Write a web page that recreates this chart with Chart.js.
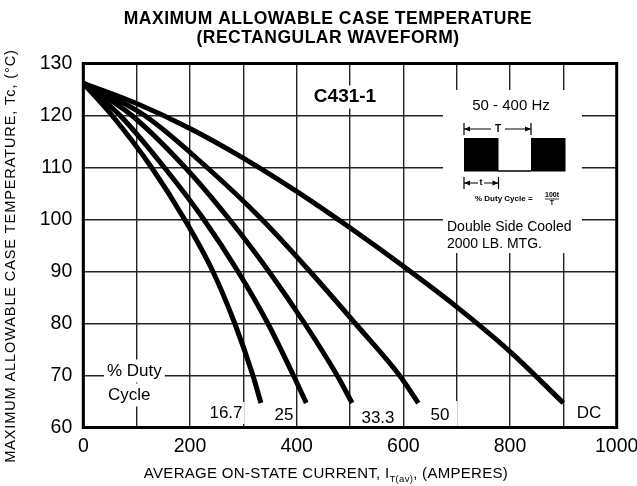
<!DOCTYPE html>
<html>
<head>
<meta charset="utf-8">
<script src="https://cdn.jsdelivr.net/npm/chart.js@4.4.1/dist/chart.umd.min.js"></script>
<style>
  body { margin: 0; background: #fff; }
  canvas { display: block; }
</style>
</head>
<body>
<canvas id="caseTempChart" width="637" height="486"></canvas>
<script>
// curves: current (A) vs max case temp (C)
var duty167Current = [0, 54, 128, 190, 243, 284, 318, 333];
var duty167Temp    = [126.2, 120, 110, 100, 90, 80, 70, 64.7];

var duty25Current = [0, 69, 152, 226, 290, 346, 394, 418];
var duty25Temp    = [126.2, 120, 110, 100, 90, 80, 70, 64.7];

var duty333Current = [0, 91, 191, 274, 348, 415, 476, 504];
var duty333Temp    = [126.2, 120, 110, 100, 90, 80, 70, 64.7];

var duty50Current = [0, 115, 232, 335, 425, 510, 593, 628];
var duty50Temp    = [126.2, 120, 110, 100, 90, 80, 70, 64.7];

var dcCurrent = [0, 100, 200, 300, 400, 500, 600, 700, 800, 900];
var dcTemp    = [126.2, 122.3, 117.5, 111.8, 105.4, 98.4, 91, 83.2, 74.6, 64.7];

var xTickLabels = [0, 200, 400, 600, 800, 1000];
var yTickLabels = [60, 70, 80, 90, 100, 110, 120, 130];

var FONT = '"Liberation Sans", Arial, Helvetica, sans-serif';

function toPoints(xs, ys) {
    var pts = [];
    for (var i = 0; i < xs.length; i++) pts.push({ x: xs[i], y: ys[i] });
    return pts;
}

function curve(label, xs, ys) {
    return {
        label: label,
        data: toPoints(xs, ys),
        borderColor: '#000',
        borderWidth: 5,
        pointRadius: 0,
        fill: false,
        cubicInterpolationMode: 'monotone',
        borderCapStyle: 'butt'
    };
}

// white box with text on top, used for labels sitting on the grid
function boxText(ctx, text, x, y, font, align, pad) {
    ctx.font = font;
    var w = ctx.measureText(text).width;
    var left = align === 'left' ? x : (align === 'right' ? x - w : x - w / 2);
    ctx.fillStyle = '#fff';
    ctx.fillRect(left - pad, y - 10 - pad / 2, w + pad * 2, 20 + pad);
    ctx.fillStyle = '#000';
    ctx.textAlign = align;
    ctx.textBaseline = 'middle';
    ctx.fillText(text, x, y);
}

function arrowLine(ctx, x1, x2, y, gapL, gapR) {
    ctx.lineWidth = 1.2;
    ctx.beginPath();
    ctx.moveTo(x1, y - 6); ctx.lineTo(x1, y + 6);
    ctx.moveTo(x2, y - 6); ctx.lineTo(x2, y + 6);
    ctx.moveTo(x1, y); ctx.lineTo(gapL, y);
    ctx.moveTo(gapR, y); ctx.lineTo(x2, y);
    ctx.stroke();
    ctx.beginPath();
    ctx.moveTo(x1, y); ctx.lineTo(x1 + 6, y - 2.5); ctx.lineTo(x1 + 6, y + 2.5); ctx.closePath();
    ctx.moveTo(x2, y); ctx.lineTo(x2 - 6, y - 2.5); ctx.lineTo(x2 - 6, y + 2.5); ctx.closePath();
    ctx.fill();
}

var annotations = {
    id: 'annotations',
    beforeDatasetsDraw: function (chart) {
        var ctx = chart.ctx;
        ctx.save();

        // inset box
        ctx.fillStyle = '#fff';
        ctx.fillRect(443, 90, 139, 163);

        boxText(ctx, 'C431-1', 345, 97, 'bold 19px ' + FONT, 'center', 3);
        boxText(ctx, '% Duty', 107, 371, '17px ' + FONT, 'left', 3);
        boxText(ctx, 'Cycle', 108, 395, '17px ' + FONT, 'left', 3);

        boxText(ctx, '16.7', 226, 413, '17px ' + FONT, 'center', 2);
        boxText(ctx, '25', 284, 415, '17px ' + FONT, 'center', 2);
        boxText(ctx, '33.3', 378, 418, '17px ' + FONT, 'center', 2);
        boxText(ctx, '50', 440, 415, '17px ' + FONT, 'center', 8);
        boxText(ctx, 'DC', 589, 413, '17px ' + FONT, 'center', 3);

        // inset contents
        ctx.fillStyle = '#000';
        ctx.strokeStyle = '#000';
        ctx.textAlign = 'center';
        ctx.textBaseline = 'middle';
        ctx.font = '15px ' + FONT;
        ctx.fillText('50 - 400 Hz', 511, 106);

        arrowLine(ctx, 464, 531, 129, 491, 505);
        ctx.font = 'bold 10px ' + FONT;
        ctx.fillText('T', 498, 129);

        ctx.fillRect(464, 138, 34.5, 33.5);
        ctx.fillRect(531, 138, 34.5, 33.5);
        ctx.lineWidth = 1.5;
        ctx.beginPath();
        ctx.moveTo(498, 171); ctx.lineTo(531, 171);
        ctx.stroke();

        arrowLine(ctx, 464, 498.5, 183, 478, 484);
        ctx.font = 'bold 9px ' + FONT;
        ctx.fillText('t', 481, 183);

        ctx.font = 'bold 8px ' + FONT;
        ctx.textAlign = 'left';
        ctx.fillText('% Duty Cycle =', 475, 199);
        ctx.textAlign = 'center';
        ctx.font = 'bold 7px ' + FONT;
        ctx.fillText('100t', 552, 195);
        ctx.fillText('T', 552, 203);
        ctx.lineWidth = 0.8;
        ctx.beginPath();
        ctx.moveTo(545, 199); ctx.lineTo(559, 199);
        ctx.stroke();

        ctx.font = '14px ' + FONT;
        ctx.textAlign = 'left';
        ctx.fillText('Double Side Cooled', 447, 227);
        ctx.fillText('2000 LB. MTG.', 447, 244);

        ctx.restore();
    },
    afterDraw: function (chart) {
        var ctx = chart.ctx;
        var a = chart.chartArea;
        ctx.save();

        // frame
        ctx.strokeStyle = '#000';
        ctx.lineWidth = 3;
        ctx.strokeRect(a.left, a.top, a.right - a.left, a.bottom - a.top);

        ctx.fillStyle = '#000';
        ctx.textAlign = 'center';
        ctx.textBaseline = 'middle';

        // title
        ctx.font = 'bold 17.5px ' + FONT;
        ctx.letterSpacing = '0.5px';
        ctx.fillText('MAXIMUM ALLOWABLE CASE TEMPERATURE', 328, 19);
        ctx.fillText('(RECTANGULAR WAVEFORM)', 328, 38);

        // y axis title
        ctx.save();
        ctx.translate(11, 256);
        ctx.rotate(-Math.PI / 2);
        ctx.font = '14.5px ' + FONT;
        ctx.letterSpacing = '0.9px';
        ctx.fillText('MAXIMUM ALLOWABLE CASE TEMPERATURE, Tc, (\u00B0C)', 0, 0);
        ctx.restore();

        // x axis title with subscript
        ctx.letterSpacing = '0.3px';
        var part1 = 'AVERAGE ON-STATE CURRENT, I';
        var sub = 'T(av)';
        var part2 = ', (AMPERES)';
        ctx.font = '15px ' + FONT;
        var w1 = ctx.measureText(part1).width;
        var w3 = ctx.measureText(part2).width;
        ctx.font = '9.5px ' + FONT;
        var w2 = ctx.measureText(sub).width;
        var x0 = 326 - (w1 + w2 + w3) / 2;
        ctx.textAlign = 'left';
        ctx.font = '15px ' + FONT;
        ctx.fillText(part1, x0, 474);
        ctx.font = '9.5px ' + FONT;
        ctx.fillText(sub, x0 + w1, 479);
        ctx.font = '15px ' + FONT;
        ctx.fillText(part2, x0 + w1 + w2, 474);

        ctx.restore();
    }
};

var ctx = document.getElementById('caseTempChart').getContext('2d');

var caseTempChart = new Chart(ctx, {
    type: 'line',
    data: {
        datasets: [
            curve('16.7', duty167Current, duty167Temp),
            curve('25', duty25Current, duty25Temp),
            curve('33.3', duty333Current, duty333Temp),
            curve('50', duty50Current, duty50Temp),
            curve('DC', dcCurrent, dcTemp)
        ]
    },
    options: {
        responsive: false,
        devicePixelRatio: 1,
        animation: false,
        layout: { padding: { top: 63.5, right: 20.3, left: 0, bottom: 0 } },
        plugins: {
            legend: { display: false },
            tooltip: { enabled: false },
            title: { display: false }
        },
        scales: {
            x: {
                type: 'linear',
                min: 0,
                max: 1000,
                ticks: {
                    stepSize: 100,
                    autoSkip: false,
                    maxRotation: 0,
                    padding: 7,
                    color: '#000',
                    font: { family: FONT, size: 19.5 },
                    callback: function (v) {
                        return xTickLabels.indexOf(v) >= 0 ? String(v) : '';
                    }
                },
                grid: { color: '#222', lineWidth: 1.4, drawTicks: false },
                border: { display: false },
                afterFit: function (scale) {
                    scale.height = 58.5;
                    scale.paddingLeft = 0;
                    scale.paddingRight = 0;
                }
            },
            y: {
                type: 'linear',
                min: 60,
                max: 130,
                ticks: {
                    stepSize: 10,
                    padding: 11,
                    color: '#000',
                    font: { family: FONT, size: 19.5 },
                    callback: function (v) {
                        return yTickLabels.indexOf(v) >= 0 ? String(v) : '';
                    }
                },
                grid: { color: '#222', lineWidth: 1.4, drawTicks: false },
                border: { display: false },
                afterFit: function (scale) {
                    scale.width = 83.3;
                    scale.paddingTop = 0;
                    scale.paddingBottom = 0;
                }
            }
        }
    },
    plugins: [annotations]
});
</script>
</body>
</html>
